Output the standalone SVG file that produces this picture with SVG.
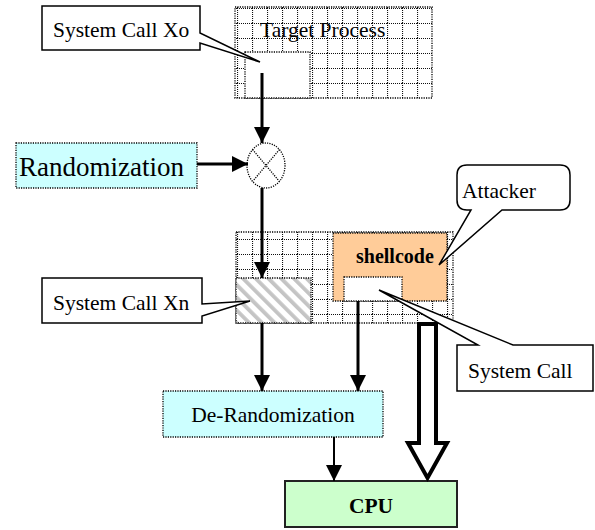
<svg xmlns="http://www.w3.org/2000/svg" width="595" height="530" viewBox="0 0 595 530">
<style>
text{font-family:"Liberation Serif","Times New Roman",serif;fill:#000}
.t{font-size:21.5px}
.b{font-weight:bold}
.dot{stroke:#000;stroke-width:1.3;stroke-dasharray:1.2 1.2}
.call{fill:#fff;stroke:#000;stroke-width:1.5;stroke-linejoin:miter}
.ln{stroke:#000;fill:none}
</style>
<defs>
<pattern id="gridA" patternUnits="userSpaceOnUse" x="237" y="8" width="15" height="15">
<path d="M0.5,0V15M0,0.5H15" stroke="#111" stroke-width="1.2" stroke-dasharray="1 1" fill="none"/>
</pattern>
<pattern id="gridB" patternUnits="userSpaceOnUse" x="252" y="239" width="15" height="15">
<path d="M0.5,0V15M0,0.5H15" stroke="#111" stroke-width="1.2" stroke-dasharray="1 1" fill="none"/>
</pattern>
<pattern id="hatch" patternUnits="userSpaceOnUse" width="9" height="9" patternTransform="rotate(-45)">
<rect width="9" height="9" fill="#fff"/>
<rect width="3.8" height="9" fill="#c4c4c4"/>
</pattern>
<marker id="ah" markerUnits="userSpaceOnUse" markerWidth="16" markerHeight="16" viewBox="0 0 16 16" refX="16" refY="8" orient="auto">
<path d="M0,0L16,8L0,16Z" fill="#000"/>
</marker>
</defs>

<g id="target-process">
<rect x="235" y="7" width="197" height="91" fill="url(#gridA)" class="dot"/>
<rect x="245" y="52" width="65" height="46" fill="#fff" class="dot"/>
<text class="t" x="260" y="37">Target Process</text>
</g>

<g id="randomization">
<rect x="16" y="143" width="181" height="45" fill="#ccffff" class="dot"/>
<text x="19" y="176" style="font-size:27px">Randomization</text>
</g>

<g id="xor">
<ellipse cx="266" cy="165.5" rx="19" ry="22.5" fill="#fff" class="dot"/>
<path d="M252.6,149.6L279.4,181.4M279.4,149.6L252.6,181.4" class="dot" fill="none"/>
</g>

<g id="memory">
<rect x="236" y="232" width="217" height="91" fill="url(#gridB)" class="dot"/>
<rect x="236" y="278" width="75" height="45" fill="url(#hatch)" class="dot"/>
<rect x="333" y="233" width="114" height="68" fill="#ffcc99" class="dot"/>
<rect x="344" y="277" width="58" height="24" fill="#fff" class="dot"/>
<text class="b" x="356" y="263" style="font-size:20px">shellcode</text>
</g>

<g id="de-randomization">
<rect x="163" y="391" width="220" height="46" fill="#ccffff" class="dot"/>
<text class="t" x="273" y="422" text-anchor="middle">De-Randomization</text>
</g>

<g id="cpu">
<rect x="285" y="481" width="172" height="46" fill="#ccffcc" stroke="#222" stroke-width="2"/>
<text class="t b" x="371" y="513" text-anchor="middle">CPU</text>
</g>

<g id="connectors">
<line x1="262" y1="73" x2="262" y2="143" class="ln" stroke-width="3" marker-end="url(#ah)"/>
<line x1="197" y1="164" x2="248" y2="164" class="ln" stroke-width="3" marker-end="url(#ah)"/>
<line x1="262" y1="188" x2="262" y2="278" class="ln" stroke-width="3" marker-end="url(#ah)"/>
<line x1="262" y1="323" x2="262" y2="391" class="ln" stroke-width="3" marker-end="url(#ah)"/>
<line x1="358" y1="301" x2="358" y2="391" class="ln" stroke-width="3" marker-end="url(#ah)"/>
<line x1="334" y1="437" x2="334" y2="481" class="ln" stroke-width="2" marker-end="url(#ah)"/>
<path d="M419,324H436V443H447L427.5,478L408,443H419Z" fill="#fff" stroke="#000" stroke-width="4" stroke-linejoin="miter"/>
</g>

<g id="callout-xo">
<path d="M42,6H200V33L260,62L200,43V50H42Z" class="call"/>
<text class="t" x="53" y="37">System Call Xo</text>
</g>

<g id="callout-xn">
<path d="M42,278H202V304L250,301L202,316V323H42Z" class="call"/>
<text class="t" x="53" y="310">System Call Xn</text>
</g>

<g id="callout-attacker">
<path d="M467,165H560Q570,165 570,175V200Q570,210 560,210H502L439,265L471,210H467Q457,210 457,200V175Q457,165 467,165Z" class="call"/>
<text class="t" x="462" y="198">Attacker</text>
</g>

<g id="callout-systemcall">
<path d="M457,345H478L379,290L513,345H593V391H457Z" class="call"/>
<text class="t" x="468" y="378">System Call</text>
</g>
</svg>
